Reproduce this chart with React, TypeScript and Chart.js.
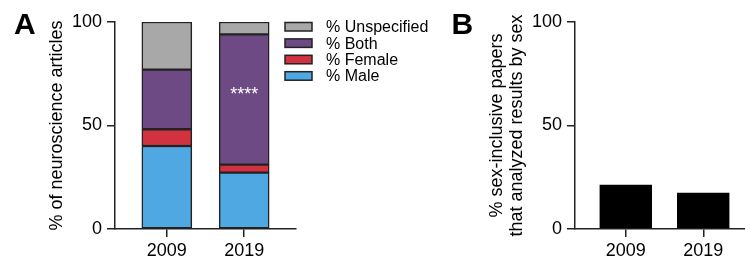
import React, { useEffect, useRef } from 'react';
import { Chart, registerables } from 'chart.js';

Chart.register(...registerables);

// ---------- data ----------
const years = ['2009', '2019'];
const yearPositions = [1, 2];
const seriesNames = ['% Male', '% Female', '% Both', '% Unspecified'];
const malePct = [40.1, 27.2];
const femalePct = [8.1, 3.9];
const bothPct = [28.8, 62.9];
const unspecifiedPct = [23.0, 6.0];
const significance = ['', '****'];
const sexAnalyzedPct = [21.3, 17.5];
const yTicks = [0, 50, 100];

// ---------- styles ----------
const FAMILY = '"Liberation Sans", Arial, Helvetica, sans-serif';
const AXIS = '#222222';
const seriesColors = ['#4FA8E2', '#D2313F', '#6E4A84', '#A8A8A8'];

const panelLabelPlugin = {
  id: 'panelLabel',
  afterDraw(chart: any, _args: any, opts: any) {
    const ctx = chart.ctx;
    ctx.save();
    ctx.fillStyle = '#000';
    ctx.font = `bold 30px ${FAMILY}`;
    ctx.textAlign = 'left';
    ctx.textBaseline = 'alphabetic';
    ctx.fillText(opts.text, opts.x, opts.y);
    ctx.restore();
  },
};

const boxLegendPlugin = {
  id: 'boxLegend',
  afterDraw(chart: any) {
    const ctx = chart.ctx;
    const ds = chart.data.datasets.slice().reverse();
    ctx.save();
    ds.forEach((d: any, i: number) => {
      const top = 22.5 + i * 16.4;
      ctx.fillStyle = d.backgroundColor;
      ctx.fillRect(285, top, 27, 8.5);
      ctx.strokeStyle = AXIS;
      ctx.lineWidth = 1.5;
      ctx.strokeRect(285, top, 27, 8.5);
      ctx.fillStyle = '#000';
      ctx.font = `16px ${FAMILY}`;
      ctx.textAlign = 'left';
      ctx.textBaseline = 'alphabetic';
      ctx.fillText(d.label, 326, 32.2 + i * 16.4);
    });
    ctx.restore();
  },
};

const significancePlugin = {
  id: 'significance',
  afterDatasetsDraw(chart: any) {
    const ctx = chart.ctx;
    const meta = chart.getDatasetMeta(2);
    ctx.save();
    ctx.fillStyle = '#ffffff';
    ctx.font = `18px ${FAMILY}`;
    ctx.textAlign = 'center';
    ctx.textBaseline = 'alphabetic';
    significance.forEach((s, j) => {
      if (!s) return;
      const el = meta.data[j];
      ctx.fillText(s, el.x, (el.y + el.base) / 2);
    });
    ctx.restore();
  },
};

function yScale(title: string | string[], width: number, titlePad: number, stacked: boolean) {
  return {
    type: 'linear' as const,
    min: 0,
    max: 100,
    stacked,
    afterBuildTicks: (s: any) => {
      s.ticks = yTicks.map((v) => ({ value: v }));
    },
    afterFit: (s: any) => {
      s.width = width;
    },
    grid: { display: true, offset: false, drawOnChartArea: false, drawTicks: true, tickLength: 8, color: AXIS, lineWidth: 1.5 },
    border: { display: true, color: AXIS, width: 1.5 },
    ticks: { color: '#000', font: { family: FAMILY, size: 18 }, padding: 5 },
    title: {
      display: true,
      text: title,
      color: '#000',
      font: { family: FAMILY, size: 18, lineHeight: 20 / 18 },
      padding: { top: titlePad, bottom: 0 },
    },
  };
}

function xScale(min: number, max: number) {
  return {
    type: 'linear' as const,
    min,
    max,
    stacked: true,
    offset: false,
    afterBuildTicks: (s: any) => {
      s.ticks = yearPositions.map((v) => ({ value: v }));
    },
    afterFit: (s: any) => {
      s.height = 35;
    },
    grid: { display: true, offset: false, drawOnChartArea: false, drawTicks: true, tickLength: 8, color: AXIS, lineWidth: 1.5 },
    border: { display: true, color: AXIS, width: 1.5 },
    ticks: {
      color: '#000',
      font: { family: FAMILY, size: 18 },
      padding: 3,
      maxRotation: 0,
      autoSkip: false,
      callback: (_v: any, i: number) => years[i] ?? '',
    },
  };
}

function PanelA() {
  const ref = useRef<HTMLCanvasElement>(null);
  useEffect(() => {
    const seriesValues = [malePct, femalePct, bothPct, unspecifiedPct];
    const chart = new Chart(ref.current!, {
      type: 'bar',
      data: {
        datasets: seriesNames.map((name, i) => ({
          label: name,
          data: yearPositions.map((x, j) => ({ x, y: seriesValues[i][j] })),
          backgroundColor: seriesColors[i],
          borderColor: AXIS,
          borderWidth: 1.5,
          borderSkipped: false,
          barThickness: 50,
        })),
      },
      options: {
        responsive: false,
        animation: false,
        devicePixelRatio: 1,
        layout: { padding: { left: 0, top: 22, right: 144, bottom: 0 } },
        plugins: {
          legend: { display: false },
          tooltip: { enabled: false },
          panelLabel: { text: 'A', x: 14, y: 34 },
        } as any,
        scales: {
          x: xScale(0.33, 2.67),
          y: yScale('% of neuroscience articles', 115, 47, true),
        } as any,
      },
      plugins: [panelLabelPlugin, boxLegendPlugin, significancePlugin],
    });
    return () => chart.destroy();
  }, []);
  return (
    <canvas
      ref={ref}
      width={440}
      height={264}
      style={{ position: 'absolute', left: 0, top: 0, width: 440, height: 264 }}
    />
  );
}

function PanelB() {
  const ref = useRef<HTMLCanvasElement>(null);
  useEffect(() => {
    const chart = new Chart(ref.current!, {
      type: 'bar',
      data: {
        datasets: [
          {
            label: '% sex-inclusive papers that analyzed results by sex',
            data: yearPositions.map((x, j) => ({ x, y: sexAnalyzedPct[j] })),
            backgroundColor: '#000000',
            borderColor: '#000000',
            borderWidth: 1.5,
            borderSkipped: false,
            barThickness: 52,
          },
        ],
      },
      options: {
        responsive: false,
        animation: false,
        devicePixelRatio: 1,
        layout: { padding: { left: 0, top: 22, right: 0, bottom: 0 } },
        plugins: {
          legend: { display: false },
          tooltip: { enabled: false },
          panelLabel: { text: 'B', x: 11.5, y: 34 },
        } as any,
        scales: {
          x: xScale(0.347, 2.537),
          y: yScale(['% sex-inclusive papers', 'that analyzed results by sex'], 135, 46.7, false),
        } as any,
      },
      plugins: [panelLabelPlugin],
    });
    return () => chart.destroy();
  }, []);
  return (
    <canvas
      ref={ref}
      width={305}
      height={264}
      style={{ position: 'absolute', left: 440, top: 0, width: 305, height: 264 }}
    />
  );
}

export default function App() {
  return (
    <div style={{ position: 'absolute', left: 0, top: 0, width: 745, height: 264, background: '#fff' }}>
      <PanelA />
      <PanelB />
    </div>
  );
}
